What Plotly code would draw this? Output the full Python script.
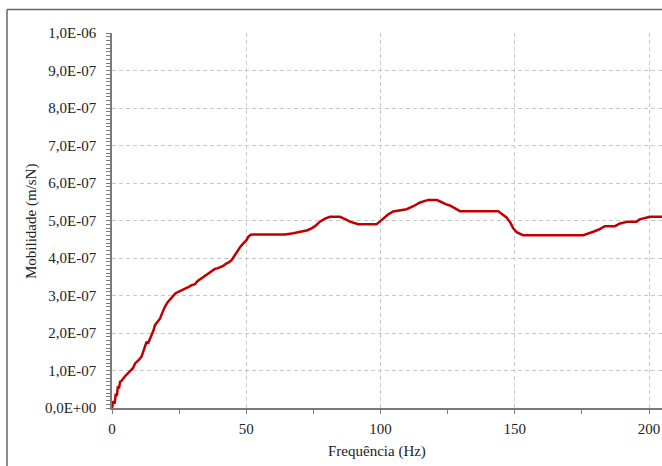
import plotly.graph_objects as go

# Frequency (Hz)
freq = [0, 0.5, 1.0, 1.4, 1.8, 2.2, 2.6, 3.0, 3.5, 4.2, 5, 6, 7.3, 7.8, 8.6, 9.2, 10, 11, 11.6, 12.3,
        12.9, 13.4, 14.1, 14.8, 15.5, 16, 16.8, 17.9, 18.8, 19.7, 20.8, 22.2, 23.5, 24.7, 26, 27, 28.4,
        29.5, 30.3, 30.9, 31.8, 32.8, 34, 35.3, 36.8, 38.3, 39.5, 40.5, 41.4, 42.5, 43.5, 44.6, 45.5,
        46.4, 47.6, 48.9, 50, 50.8, 51.7, 52.6, 64.4, 67.5, 69.4, 71.2, 72.8, 74.3, 75.8, 77.4, 79.3,
        81.2, 84.9, 86.8, 88.6, 91.7, 98.5, 99.7, 101.0, 102.8, 104.7, 107.2, 109.7, 112.2, 114.7,
        117.8, 120.9, 121.8, 123.3, 124.5, 125.8, 127.8, 129.6, 143.8, 145.5, 146.9, 148.3, 149.4,
        150.8, 153.1, 175.5, 177.3, 179.2, 181.3, 183.5, 187.3, 189.1, 192.2, 195.3, 196.5, 197.8,
        200.3, 205]

# Mobility, in units of 1e-7 m/sN
mob_1e7 = [0, 0.18, 0.12, 0.38, 0.32, 0.58, 0.52, 0.70, 0.72, 0.80, 0.86, 0.93, 1.01, 1.06, 1.19, 1.22,
           1.28, 1.37, 1.50, 1.62, 1.77, 1.72, 1.83, 1.95, 2.08, 2.21, 2.28, 2.39, 2.55, 2.70, 2.83, 2.95,
           3.05, 3.10, 3.14, 3.18, 3.22, 3.27, 3.28, 3.30, 3.38, 3.43, 3.50, 3.56, 3.64, 3.71, 3.73, 3.76,
           3.79, 3.85, 3.88, 3.95, 4.05, 4.17, 4.28, 4.39, 4.47, 4.57, 4.62, 4.63, 4.63, 4.66, 4.69, 4.72,
           4.74, 4.79, 4.86, 4.97, 5.05, 5.10, 5.10, 5.04, 4.97, 4.90, 4.90, 4.97, 5.06, 5.16, 5.24, 5.28,
           5.30, 5.38, 5.48, 5.55, 5.55, 5.52, 5.46, 5.43, 5.40, 5.33, 5.25, 5.25, 5.16, 5.08, 4.95, 4.79,
           4.68, 4.61, 4.61, 4.65, 4.70, 4.76, 4.85, 4.85, 4.92, 4.97, 4.97, 5.03, 5.06, 5.10, 5.10]

assert len(freq) == len(mob_1e7)
mob = [m * 1e-7 for m in mob_1e7]

y_tickvals = [i * 1e-7 for i in range(11)]
y_ticktext = ["0,0E+00", "1,0E-07", "2,0E-07", "3,0E-07", "4,0E-07", "5,0E-07",
              "6,0E-07", "7,0E-07", "8,0E-07", "9,0E-07", "1,0E-06"]
x_tickvals = [0, 50, 100, 150, 200]
x_ticktext = ["0", "50", "100", "150", "200"]

FONT = "Liberation Serif"
AX = "#7a7a7a"

fig = go.Figure()
fig.add_trace(go.Scatter(x=freq, y=mob, mode="lines",
                         line=dict(color="#c00000", width=2.5), showlegend=False))

L, R, T, B = 112, 0, 33, 58
W, H = 662, 466
pw, ph = W - L - R, H - T - B

fig.update_layout(
    width=W, height=H,
    margin=dict(l=L, r=R, t=T, b=B),
    plot_bgcolor="white", paper_bgcolor="white",
    font=dict(family=FONT, size=15, color="#222"),
    xaxis=dict(range=[0, 204.8], tickvals=x_tickvals, ticktext=x_ticktext,
               showgrid=True, gridcolor="#c8c8c8", griddash="4px,3px", gridwidth=1,
               showline=True, linecolor=AX, linewidth=1.5,
               ticks="outside", ticklen=4, tickcolor=AX, ticklabelstandoff=2,
               minor=dict(dtick=25, tick0=0, ticks="outside", ticklen=4, tickcolor=AX, showgrid=False),
               zeroline=False, tickfont=dict(family=FONT, size=15)),
    yaxis=dict(range=[0, 1e-6], tickvals=y_tickvals, ticktext=y_ticktext,
               showgrid=True, gridcolor="#c8c8c8", griddash="4px,3px", gridwidth=1,
               showline=True, linecolor=AX, linewidth=1.5,
               ticks="outside", ticklen=4, tickcolor=AX, ticklabelstandoff=7,
               minor=dict(dtick=1e-8, tick0=0, ticks="outside", ticklen=4, tickcolor=AX, showgrid=False),
               zeroline=False, tickfont=dict(family=FONT, size=15)),
)

# outer chart frame (left and top edges visible)
fx = (7 - L) / pw
fy = 1 + (T - 9.5) / ph
fig.add_shape(type="line", xref="paper", yref="paper", x0=fx, x1=fx, y0=-0.3, y1=fy,
              line=dict(color="#666", width=1.5))
fig.add_shape(type="line", xref="paper", yref="paper", x0=fx, x1=1.2, y0=fy, y1=fy,
              line=dict(color="#666", width=1.5))

fig.add_annotation(text="Frequência (Hz)", xref="paper", yref="paper",
                   x=(377 - L) / pw, y=-(451 - (T + ph)) / ph, showarrow=False,
                   xanchor="center", yanchor="middle", font=dict(family=FONT, size=15))
fig.add_annotation(text="Mobilidade (m/sN)", xref="paper", yref="paper",
                   x=(31 - L) / pw, y=1 - (222 - T) / ph, showarrow=False, textangle=-90,
                   xanchor="center", yanchor="middle", font=dict(family=FONT, size=15))

fig.write_html("out.html")
